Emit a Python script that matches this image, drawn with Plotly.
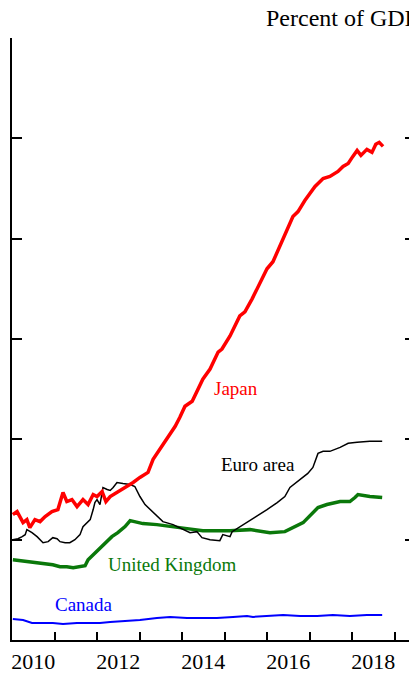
import plotly.graph_objects as go

# ---- data (decimal years, percent of GDP) ----
japan_x = [2010.02, 2010.12, 2010.26, 2010.35, 2010.42, 2010.54, 2010.66, 2010.78, 2010.94, 2011.08,
           2011.20, 2011.29, 2011.41, 2011.53, 2011.67, 2011.79, 2011.91, 2012.00, 2012.12, 2012.21,
           2012.31, 2012.47, 2012.61, 2012.71, 2012.85, 2013.01, 2013.20, 2013.32, 2013.48, 2013.65,
           2013.84, 2013.95, 2014.07, 2014.24, 2014.38, 2014.49, 2014.66, 2014.85, 2014.94, 2015.13,
           2015.36, 2015.48, 2015.65, 2015.88, 2016.00, 2016.14, 2016.31, 2016.47, 2016.61, 2016.73,
           2016.89, 2017.13, 2017.32, 2017.48, 2017.67, 2017.79, 2017.91, 2018.02, 2018.12, 2018.21,
           2018.35, 2018.47, 2018.56, 2018.64, 2018.73]
japan_y = [25.0, 25.6, 23.4, 24.0, 22.4, 24.0, 23.6, 24.6, 25.6, 26.0,
           29.4, 27.6, 28.0, 26.6, 28.0, 27.0, 29.0, 28.6, 29.6, 27.6,
           28.6, 29.4, 30.0, 30.6, 31.4, 32.4, 33.4, 36.0, 38.0, 40.4,
           42.6, 44.4, 46.6, 47.6, 50.0, 52.0, 54.0, 57.4, 58.0, 60.6,
           64.6, 65.4, 68.0, 72.0, 74.0, 75.4, 78.6, 81.4, 84.4, 85.4,
           87.6, 90.4, 92.0, 92.4, 93.4, 94.4, 95.0, 96.4, 97.6, 96.6,
           97.8, 97.2, 98.8, 99.2, 98.4]

euro_x = [2010.02, 2010.14, 2010.24, 2010.31, 2010.35, 2010.47, 2010.59, 2010.73, 2010.85, 2010.96,
          2011.06, 2011.13, 2011.25, 2011.36, 2011.48, 2011.60, 2011.67, 2011.76, 2011.84, 2011.91,
          2011.95, 2012.00, 2012.07, 2012.12, 2012.14, 2012.24, 2012.31, 2012.38, 2012.47, 2012.61,
          2012.78, 2012.89, 2013.01, 2013.13, 2013.25, 2013.41, 2013.55, 2013.79, 2014.02, 2014.19,
          2014.35, 2014.47, 2014.66, 2014.89, 2014.96, 2015.13, 2015.18, 2015.44, 2015.76, 2016.00,
          2016.24, 2016.42, 2016.54, 2016.78, 2016.96, 2017.08, 2017.20, 2017.32, 2017.48, 2017.72,
          2017.91, 2018.12, 2018.42, 2018.71]
euro_y = [20.0, 20.2, 20.6, 21.0, 22.0, 21.4, 20.6, 19.4, 19.6, 20.4,
          20.2, 19.6, 19.4, 19.4, 20.0, 21.0, 22.6, 23.4, 24.0, 26.0,
          27.4, 28.0, 27.0, 29.4, 30.4, 30.0, 29.8, 30.4, 31.4, 31.2,
          31.0, 30.6, 28.6, 27.0, 26.0, 24.6, 23.6, 23.0, 22.0, 21.4,
          21.6, 20.4, 20.0, 19.8, 21.0, 20.6, 21.6, 23.0, 24.6, 26.0,
          27.4, 28.6, 30.4, 32.0, 33.2, 34.4, 37.2, 37.6, 37.6, 38.4,
          39.2, 39.4, 39.6, 39.6]

uk_x = [2010.02, 2010.19, 2010.35, 2010.49, 2010.73, 2010.96, 2011.13, 2011.29, 2011.44, 2011.60,
        2011.72, 2011.79, 2011.91, 2012.07, 2012.24, 2012.35, 2012.49, 2012.66, 2012.78, 2012.89,
        2013.08, 2013.41, 2013.72, 2014.12, 2014.49, 2015.13, 2015.60, 2016.07, 2016.42, 2016.61,
        2016.85, 2017.20, 2017.41, 2017.72, 2017.95, 2018.07, 2018.14, 2018.42, 2018.71]
uk_y = [16.0, 15.8, 15.6, 15.4, 15.2, 15.0, 14.6, 14.6, 14.4, 14.6,
        14.8, 16.0, 17.0, 18.4, 19.6, 20.6, 21.4, 22.6, 23.8, 23.6,
        23.2, 23.0, 22.6, 22.2, 21.8, 21.8, 22.0, 21.4, 21.6, 22.4,
        23.4, 26.4, 27.0, 27.6, 27.6, 28.4, 29.0, 28.6, 28.4]

canada_x = [2010.02, 2010.26, 2010.47, 2010.73, 2010.96, 2011.20, 2011.53, 2011.84, 2012.07, 2012.31,
            2012.71, 2013.01, 2013.41, 2013.72, 2014.12, 2014.42, 2014.82, 2015.20, 2015.53, 2015.67,
            2016.00, 2016.38, 2016.78, 2017.18, 2017.55, 2017.95, 2018.35, 2018.71]
canada_y = [4.2, 4.0, 3.4, 3.4, 3.4, 3.2, 3.4, 3.4, 3.4, 3.6,
            3.8, 4.0, 4.4, 4.6, 4.4, 4.4, 4.4, 4.6, 4.8, 4.6,
            4.8, 5.0, 4.8, 4.8, 5.0, 4.8, 5.0, 5.0]

year_ticks = [2011, 2012, 2013, 2014, 2015, 2016, 2017, 2018, 2019]
year_label_pos = [2010.5, 2012.5, 2014.5, 2016.5, 2018.5]
year_labels = ["2010", "2012", "2014", "2016", "2018"]
y_ticks = [0, 20, 40, 60, 80, 100, 120]

FONT = "Liberation Serif"
RED, BLACK, GREEN, BLUE = "#ff0000", "#000000", "#0a780a", "#0000ff"

fig = go.Figure()
fig.add_trace(go.Scatter(x=canada_x, y=canada_y, mode="lines", line=dict(color=BLUE, width=2)))
fig.add_trace(go.Scatter(x=uk_x, y=uk_y, mode="lines", line=dict(color=GREEN, width=3.5)))
fig.add_trace(go.Scatter(x=euro_x, y=euro_y, mode="lines", line=dict(color=BLACK, width=1.5)))
fig.add_trace(go.Scatter(x=japan_x, y=japan_y, mode="lines", line=dict(color=RED, width=3.5)))
fig.add_trace(go.Scatter(x=[], y=[], yaxis="y2", showlegend=False))
fig.add_trace(go.Scatter(x=[], y=[], yaxis="y3", showlegend=False))
fig.add_trace(go.Scatter(x=[], y=[], yaxis="y4", showlegend=False))

labels = [("Japan", 2015.27, 50.2, RED), ("Euro area", 2015.79, 35.0, BLACK),
          ("United Kingdom", 2013.76, 15.0, GREEN), ("Canada", 2011.69, 7.0, BLUE)]
for txt, lx, ly, c in labels:
    fig.add_annotation(x=lx, y=ly, text=txt, showarrow=False, xanchor="center", yanchor="middle",
                       font=dict(family=FONT, size=19, color=c))

fig.add_annotation(xref="paper", yref="paper", x=(264 - 12) / 397, y=1 + (38 - 18) / 602,
                   text="Percent of GDP", showarrow=False, xanchor="left", yanchor="middle",
                   font=dict(family=FONT, size=24, color="black"))

yr = [0, 120]
fig.update_layout(
    width=409, height=675, margin=dict(l=12, r=0, t=38, b=35),
    plot_bgcolor="white", paper_bgcolor="white", showlegend=False,
    font=dict(family=FONT, color="black"),
    xaxis=dict(range=[2010, 2010 + 397 / 42.5], showgrid=False, zeroline=False,
               showline=True, linecolor="black", linewidth=2,
               tickmode="array", tickvals=year_label_pos, ticktext=year_labels,
               ticks="inside", ticklen=0, ticklabelstandoff=1,
               tickfont=dict(family=FONT, size=22, color="black"),
               minor=dict(tickmode="array", tickvals=year_ticks, ticks="inside", ticklen=8,
                          tickwidth=2, tickcolor="black", showgrid=False)),
    yaxis=dict(range=yr, showgrid=False, zeroline=False, showline=True, linecolor="black",
               linewidth=2, tickmode="array", tickvals=y_ticks, ticks="inside", ticklen=10,
               tickwidth=2, tickcolor="black", showticklabels=False),
    yaxis2=dict(range=yr, overlaying="y", side="right", anchor="free", position=1,
                showgrid=False, zeroline=False, showline=False, tickmode="array",
                tickvals=y_ticks, ticks="inside", ticklen=4, tickwidth=2, tickcolor="black",
                showticklabels=False),
    yaxis3=dict(range=yr, overlaying="y", side="left", anchor="free", position=0,
                showgrid=False, zeroline=False, showline=False, tickmode="array",
                tickvals=[120], ticks="inside", ticklen=20, tickwidth=2, tickcolor="black",
                showticklabels=False),
    yaxis4=dict(range=yr, overlaying="y", side="right", anchor="free", position=1,
                showgrid=False, zeroline=False, showline=False, tickmode="array",
                tickvals=[120], ticks="inside", ticklen=12, tickwidth=2, tickcolor="black",
                showticklabels=False),
)

fig.write_html("out.html", config={"displayModeBar": False},
               post_script="document.body.style.margin='0px';")
